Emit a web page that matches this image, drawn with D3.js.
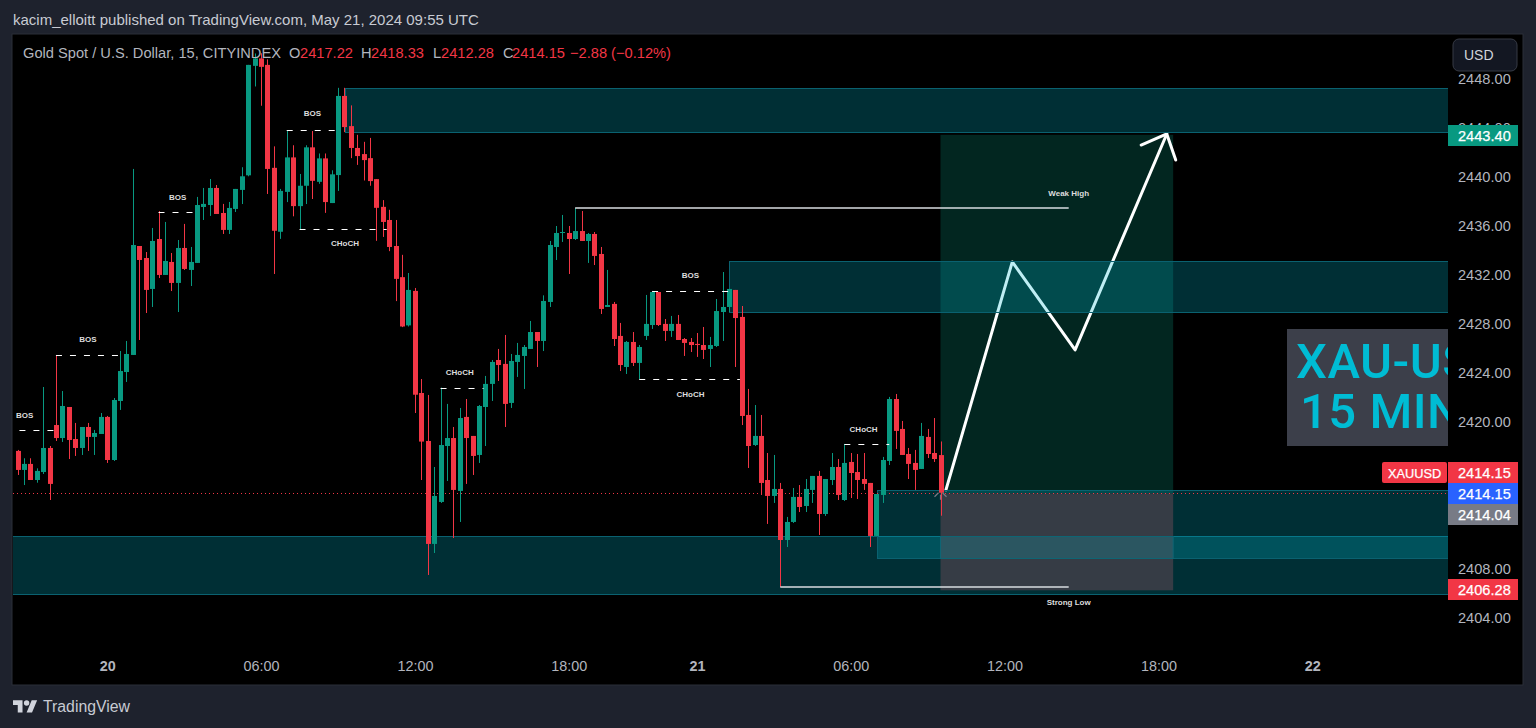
<!DOCTYPE html>
<html><head><meta charset="utf-8">
<script src="https://cdn.jsdelivr.net/npm/d3@7/dist/d3.min.js"></script>
<style>
html,body{margin:0;padding:0;background:#1e222d;overflow:hidden}
svg{display:block}
text{font-family:"Liberation Sans",Arial,sans-serif}
</style></head><body><svg id="c" width="1536" height="728"></svg>
<script>
// ---- data ----
const opens=[2417.56,2416.01,2416.50,2415.19,2415.84,2417.80,2419.67,2418.61,2421.14,2418.53,
2417.80,2419.51,2418.70,2418.94,2420.33,2416.82,2421.63,2423.99,2425.38,2434.26,
2433.28,2430.76,2434.83,2431.90,2432.96,2431.25,2434.10,2432.31,2432.88,2437.44,
2437.60,2438.99,2436.95,2435.57,2437.28,2438.83,2440.02,2448.94,2449.55,2449.02,
2440.63,2435.42,2438.67,2441.48,2437.51,2439.17,2442.30,2439.49,2441.40,2437.76,
2440.04,2446.49,2444.03,2442.25,2441.75,2441.42,2439.71,2437.45,2436.38,2434.26,
2431.72,2427.79,2430.60,2422.28,2418.37,2409.98,2413.40,2417.96,2418.61,2414.30,
2420.33,2418.78,2417.23,2421.14,2423.02,2424.97,2424.65,2421.47,2424.81,2425.30,
2425.87,2427.25,2426.52,2429.70,2434.18,2435.32,2435.32,2434.83,2435.48,2434.67,
2435.24,2433.61,2429.29,2429.54,2426.93,2424.40,2426.44,2424.73,2426.93,2427.82,
2430.51,2427.91,2427.34,2427.91,2426.68,2426.44,2426.28,2426.19,2425.87,2426.11,
2428.88,2429.29,2430.68,2428.48,2420.49,2418.04,2418.78,2415.19,2413.89,2414.46,
2410.30,2411.77,2413.81,2413.07,2414.38,2415.52,2412.42,2415.19,2416.25,2413.56,
2416.66,2415.84,2415.27,2414.95,2410.63,2413.97,2416.74,2421.79,2419.35,2417.31,
2416.58,2416.09,2418.70,2417.39,2417.22];
const highs=[2417.64,2416.96,2416.96,2416.14,2422.77,2417.96,2425.38,2422.44,2421.14,2419.84,
2419.51,2419.84,2419.27,2420.65,2420.41,2421.87,2425.70,2426.52,2440.54,2434.26,
2433.77,2435.73,2437.11,2436.22,2433.69,2434.75,2436.06,2434.18,2438.26,2438.99,
2439.72,2439.23,2437.69,2437.85,2438.91,2440.68,2449.02,2449.95,2449.97,2449.47,
2442.38,2438.91,2443.71,2442.47,2440.13,2442.47,2443.63,2441.80,2441.80,2440.43,
2447.15,2447.15,2445.72,2443.32,2442.75,2443.07,2439.71,2438.00,2437.21,2436.38,
2433.54,2432.06,2430.84,2423.42,2422.12,2416.25,2422.72,2421.39,2419.51,2421.06,
2421.79,2418.78,2421.30,2423.67,2424.97,2425.87,2427.01,2425.46,2426.36,2426.19,
2428.15,2427.25,2430.24,2434.67,2435.89,2436.79,2435.89,2437.36,2437.11,2435.32,
2435.40,2434.18,2432.31,2429.70,2427.99,2426.52,2427.25,2426.19,2430.27,2430.60,
2430.51,2428.31,2428.56,2428.64,2426.76,2426.76,2427.17,2427.66,2426.85,2429.94,
2432.14,2430.76,2430.68,2429.37,2422.61,2421.30,2420.49,2417.39,2417.23,2414.95,
2412.18,2414.54,2414.78,2415.27,2415.52,2415.93,2415.27,2417.39,2416.90,2418.13,
2417.39,2417.31,2417.39,2414.95,2414.05,2417.07,2421.96,2422.20,2420.00,2417.80,
2417.64,2419.84,2419.35,2420.24,2418.33];
const lows=[2415.60,2414.78,2415.19,2414.97,2415.68,2413.56,2418.37,2418.29,2416.90,2417.15,
2417.23,2417.56,2417.23,2418.94,2416.58,2416.74,2420.90,2423.18,2425.38,2426.60,
2428.80,2429.29,2431.65,2431.90,2430.59,2428.88,2432.31,2431.00,2432.88,2436.38,
2436.71,2436.87,2435.24,2435.24,2437.03,2437.68,2439.94,2447.26,2445.69,2438.50,
2431.98,2434.84,2437.84,2436.68,2435.64,2437.68,2438.09,2439.33,2436.96,2437.76,
2438.75,2443.54,2441.42,2440.87,2439.60,2439.17,2434.68,2435.00,2433.84,2429.77,
2427.65,2427.70,2420.65,2415.19,2407.45,2409.24,2413.32,2415.11,2410.46,2411.77,
2414.87,2415.60,2416.58,2417.96,2421.63,2423.26,2419.51,2421.06,2423.59,2422.61,
2425.87,2424.40,2425.70,2429.29,2433.12,2434.59,2431.98,2434.75,2434.67,2432.88,
2432.71,2428.72,2429.29,2426.11,2424.07,2423.83,2424.48,2423.42,2426.60,2427.50,
2427.74,2426.52,2426.85,2426.60,2425.30,2425.62,2425.22,2425.05,2424.40,2426.03,
2426.52,2428.88,2424.40,2419.67,2416.17,2417.96,2413.97,2411.61,2413.32,2406.47,
2409.73,2411.69,2412.58,2412.58,2413.32,2410.71,2412.26,2414.78,2413.56,2413.48,
2413.72,2413.64,2414.38,2409.73,2410.63,2413.32,2416.41,2417.72,2417.23,2415.27,
2414.38,2416.09,2416.98,2416.66,2412.28];
const closes=[2416.01,2416.50,2415.19,2415.93,2417.80,2414.87,2418.61,2421.22,2418.45,2417.80,
2419.51,2418.70,2419.02,2420.33,2416.82,2421.71,2424.07,2425.46,2434.34,2433.12,
2430.68,2434.67,2431.90,2433.04,2431.25,2434.10,2432.39,2432.96,2437.60,2437.69,
2438.99,2436.87,2435.57,2437.36,2438.91,2439.94,2449.02,2449.55,2448.86,2440.54,
2435.50,2438.75,2441.48,2437.51,2439.17,2442.30,2439.57,2441.40,2437.84,2440.10,
2446.49,2443.95,2442.25,2441.59,2441.26,2439.55,2437.37,2436.22,2434.18,2431.58,
2427.70,2430.68,2422.14,2418.32,2409.98,2413.89,2418.04,2418.61,2414.38,2420.24,
2418.61,2417.15,2421.22,2423.02,2424.81,2424.56,2421.39,2424.89,2425.38,2426.03,
2427.25,2426.52,2429.78,2434.34,2435.32,2435.40,2434.83,2435.48,2434.67,2435.24,
2433.45,2429.13,2429.45,2426.68,2424.56,2426.44,2424.73,2426.03,2427.91,2430.51,
2427.82,2427.34,2427.91,2426.60,2426.36,2426.19,2426.19,2425.79,2426.19,2428.96,
2429.29,2430.76,2428.39,2420.41,2417.96,2418.78,2414.95,2413.89,2414.46,2410.30,
2411.77,2413.81,2412.99,2414.46,2415.52,2412.42,2415.27,2416.25,2413.97,2416.58,
2415.76,2415.19,2414.87,2410.63,2414.05,2416.82,2421.79,2419.19,2417.23,2416.50,
2416.01,2418.78,2417.31,2416.90,2414.15];

const priceTicks=[2404,2408,2412,2416,2420,2424,2428,2432,2436,2440,2444,2448];
const timeTickBars=[14,38,62,86,106,130,154,178,202];
const timeTickLabels=["20","06:00","12:00","18:00","21","06:00","12:00","18:00","22"];
const boldTimeLabels=["20","21","22"];

// [startBar, endBar, topPrice, bottomPrice]
const zones=[[51.1,224,2447.10,2443.55],[111,224,2433.04,2428.88],[-1,224,2410.63,2405.88],[134.1,224,2414.38,2408.80]];
const overlap=[2410.63,2408.80];
// [startBar, endBar, price, label, labelBar, labelPrice]
const dashed=[[0.3,6,2419.24,"BOS",1.1,2420.45],[6,16,2425.38,"BOS",11,2426.70],[22,27.4,2437.06,"BOS",25,2438.22],
[42,49.5,2443.71,"BOS",46,2445.05],[44,57.6,2435.65,"CHoCH",51.1,2434.45],[66,72.7,2422.71,"CHoCH",69,2423.98],
[99,110.9,2430.62,"BOS",105,2431.90],[97,112.7,2423.42,"CHoCH",105,2422.18],[129,136,2418.10,"CHoCH",132,2419.33]];
const solid=[[87,164,2437.36,"Weak High",164,2438.60],[119,164,2406.50,"Strong Low",164,2405.20]];
const longBox={start:144,end:180.3,target:2443.32,entry:2414.10,stop:2406.20};
const arrowBars=[144.85,155.2,165.0,179.3];
const arrowPrices=[2414.38,2432.96,2425.79,2443.39];
const headBars=[175.3,179.3,180.7];
const headPrices=[2442.49,2443.39,2441.27];
// [price, fill, text, rowOffset]
const axisLabels=[[2443.40,"#089981","#fff",1],[2414.15,"#f23645","#fff",-21],[2414.15,"#2962ff","#fff",0],[2414.04,"#787b86","#fff",21],[2406.28,"#f23645","#fff",0]];
const legendItems=[[23,"Gold Spot / U.S. Dollar, 15, CITYINDEX","#b2b5be"],[289,"O","#b2b5be"],[300,"2417.22","#f23645"],[361,"H","#b2b5be"],[371,"2418.33","#f23645"],[433,"L","#b2b5be"],[441,"2412.28","#f23645"],[503,"C","#b2b5be"],[512,"2414.15","#f23645"],[570,"−2.88 (−0.12%)","#f23645"]];

// ---- layout ----
const pane={l:13,t:35,r:1448,b:684,axisR:1522};
const x=d3.scaleLinear().domain([0,144]).range([17.5,940.5]);
const y=d3.scaleLinear().domain([2404,2448]).range([617.3,77.4]);
const bullish="#089981",bearish="#f23645";
const svg=d3.select("#c");
const defs=svg.append("defs");
defs.append("clipPath").attr("id","pc").append("rect").attr("x",pane.l).attr("y",pane.t).attr("width",pane.r-pane.l).attr("height",pane.b-pane.t);
// frame
svg.append("rect").attr("x",pane.l-1).attr("y",pane.t-1).attr("width",pane.axisR-pane.l+2).attr("height",pane.b-pane.t+2).attr("fill","#000").attr("stroke","#2a2e39");
svg.append("text").attr("x",13).attr("y",25).attr("fill","#c8cbd3").attr("font-size",15).text("kacim_elloitt published on TradingView.com, May 21, 2024 09:55 UTC");

const g=svg.append("g").attr("clip-path","url(#pc)");
// long position box
g.append("rect").attr("x",x(longBox.start)).attr("width",x(longBox.end)-x(longBox.start)).attr("y",y(longBox.target)).attr("height",y(longBox.entry)-y(longBox.target)).attr("fill","rgba(8,153,129,.25)");
// arrow
const line=d3.line().x(d=>x(d[0])).y(d=>y(d[1]));
const ap=arrowBars.map((b,i)=>[b,arrowPrices[i]]);
const hp=headBars.map((b,i)=>[b,headPrices[i]]);
g.append("path").attr("d",line(ap)).attr("fill","none").attr("stroke","#fff").attr("stroke-width",3).attr("stroke-linejoin","round").attr("stroke-linecap","round");
g.append("path").attr("d",line(hp)).attr("fill","none").attr("stroke","#fff").attr("stroke-width",3).attr("stroke-linejoin","round").attr("stroke-linecap","round");
// zones
g.selectAll(".z").data(zones).join("rect").attr("x",d=>Math.round(x(d[0]))+.5).attr("y",d=>Math.round(y(d[2]))+.5)
 .attr("width",d=>x(d[1])-x(d[0])).attr("height",d=>Math.round(y(d[3])-y(d[2])))
 .attr("fill","rgba(0,188,212,.25)").attr("stroke","#0a6170");
// grey stop box, with the overlap band of the two lower zones showing through
g.append("rect").attr("x",x(longBox.start)).attr("width",x(longBox.end)-x(longBox.start)).attr("y",y(longBox.entry)).attr("height",y(longBox.stop)-y(longBox.entry)).attr("fill","#363c45");
g.append("rect").attr("x",x(longBox.start)).attr("width",x(longBox.end)-x(longBox.start)).attr("y",Math.round(y(overlap[0]))+.5).attr("height",Math.round(y(overlap[1])-y(overlap[0]))).attr("fill","rgba(0,188,212,.2)").attr("stroke","#0e6574");
// last price line
g.append("line").attr("x1",pane.l).attr("x2",pane.r).attr("y1",Math.round(y(closes[144]))+.5).attr("y2",Math.round(y(closes[144]))+.5).attr("stroke",bearish).attr("stroke-dasharray","1 3");
// candles
const idx=d3.range(opens.length);
const colour=i=>closes[i]>=opens[i]?bullish:bearish;
g.selectAll(".w").data(idx).join("rect").attr("x",i=>Math.round(x(i))).attr("width",1).attr("y",i=>y(highs[i])).attr("height",i=>y(lows[i])-y(highs[i])).attr("fill",colour);
g.selectAll(".b").data(idx).join("rect").attr("x",i=>Math.round(x(i))-2).attr("width",5).attr("y",i=>y(Math.max(opens[i],closes[i]))).attr("height",i=>Math.max(1,Math.abs(y(opens[i])-y(closes[i])))).attr("fill",colour);
// structure lines
g.selectAll(".d").data(dashed).join("line").attr("x1",d=>x(d[0])).attr("x2",d=>x(d[1])).attr("y1",d=>Math.round(y(d[2]))+.5).attr("y2",d=>Math.round(y(d[2]))+.5).attr("stroke","#fff").attr("stroke-dasharray","6 8");
g.selectAll(".s").data(solid).join("line").attr("x1",d=>x(d[0])).attr("x2",d=>x(d[1])).attr("y1",d=>Math.round(y(d[2]))).attr("y2",d=>Math.round(y(d[2]))).attr("stroke","#d8dde0").attr("stroke-width",1.5);
g.selectAll(".l").data(dashed.concat(solid)).join("text").attr("x",d=>x(d[4])).attr("y",d=>y(d[5])).attr("dy","0.35em").attr("text-anchor","middle").attr("fill","#dddddd").attr("font-size",8).attr("font-weight",700).text(d=>d[3]);
// entry marker
const mx=x(144),my=y(closes[144]);
g.append("path").attr("d",`M${mx-6},${my+4}L${mx-2},${my}M${mx+6},${my+4}L${mx+2},${my}M${mx},${my+2}V${my+7}`).attr("stroke","#787b86").attr("stroke-width",1.2).attr("fill","none");
// watermark box
g.append("rect").attr("x",1287).attr("y",329).attr("width",170).attr("height",117).attr("fill","#3c3f4a");
g.append("text").attr("x",1296).attr("y",378).attr("fill","#00bcd4").attr("font-size",49).attr("font-weight",500).attr("letter-spacing",.5).attr("style","font-family:Roboto,sans-serif").text("XAU-USD");
g.append("text").attr("x",1300).attr("y",428).attr("fill","#00bcd4").attr("font-size",49).attr("font-weight",500).attr("letter-spacing",.5).attr("style","font-family:Roboto,sans-serif").text("15 MIN");
// axes
const ya=d3.axisRight(y).tickValues(priceTicks).tickSize(0).tickPadding(0).tickFormat(d3.format(".2f"));
const yg=svg.append("g").attr("transform",`translate(${pane.r+10},1)`).call(ya);
yg.select(".domain").remove();
yg.selectAll("text").attr("fill","#b2b5be").attr("font-size",14.6);
const xa=d3.axisBottom(x).tickValues(timeTickBars).tickSize(0).tickPadding(0).tickFormat((d,i)=>timeTickLabels[i]);
const xg=svg.append("g").attr("transform","translate(0,661)").call(xa);
xg.select(".domain").remove();
xg.selectAll("text").attr("fill","#b2b5be").attr("font-size",14.4).attr("font-weight",(d,i)=>boldTimeLabels.includes(timeTickLabels[i])?700:400);
// axis price labels
const al=svg.selectAll(".al").data(axisLabels).join("g").attr("transform",d=>`translate(${pane.r},${Math.round(y(d[0]===2414.04?2414.15:d[0]))-10+d[3]})`);
al.append("rect").attr("width",70).attr("height",21).attr("fill",d=>d[1]);
al.append("text").attr("x",10).attr("y",15.5).attr("fill",d=>d[2]).attr("stroke",d=>d[2]).attr("stroke-width",.25).attr("font-size",14.6).text(d=>d[0].toFixed(2));
svg.append("rect").attr("x",1382).attr("y",462).attr("width",65).attr("height",21).attr("rx",2).attr("fill",bearish);
svg.append("text").attr("x",1388).attr("y",477.5).attr("fill","#fff").attr("stroke","#fff").attr("stroke-width",.25).attr("font-size",12.8).text("XAUUSD");
// currency button
svg.append("rect").attr("x",1453).attr("y",39).attr("width",64).attr("height",32).attr("rx",6).attr("fill","#131722").attr("stroke","#363a45");
svg.append("text").attr("x",1464).attr("y",60).attr("fill","#d1d4dc").attr("font-size",14).text("USD");
// legend
svg.selectAll(".lg").data(legendItems).join("text").attr("x",d=>d[0]).attr("y",58).attr("fill",d=>d[2]).attr("font-size",14.65).text(d=>d[1]);
// footer logo
const fg=svg.append("g").attr("transform","translate(13,697.5) scale(.68)").attr("fill","#d1d4dc");
fg.append("path").attr("d","M14 22H7V11H0V4h14v18zM28 22h-8l7.5-18h8L28 22z");
fg.append("circle").attr("cx",20).attr("cy",8).attr("r",4);
svg.append("text").attr("x",43).attr("y",712).attr("fill","#c8cbd3").attr("font-size",15.8).text("TradingView");
</script></body></html>
